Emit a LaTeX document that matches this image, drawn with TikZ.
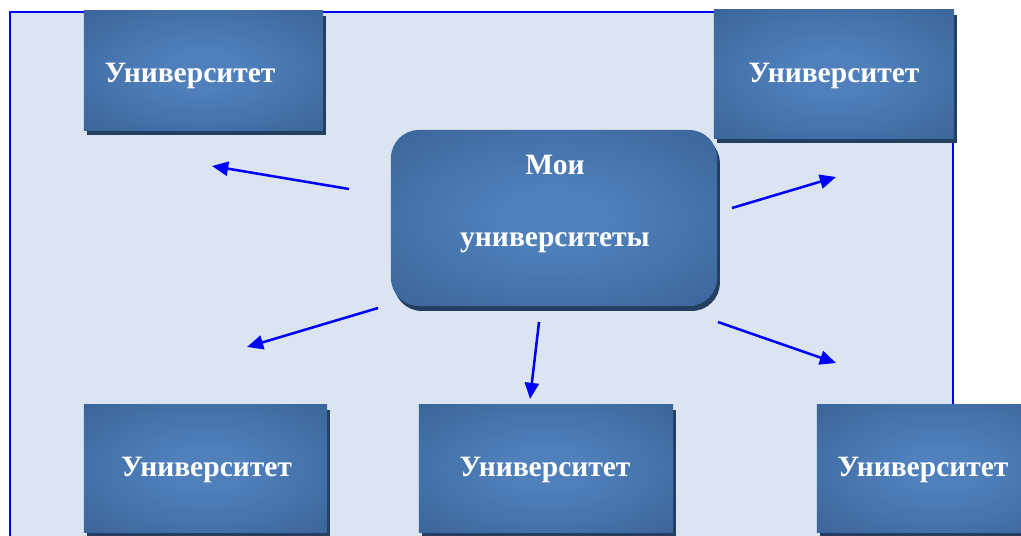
\documentclass[tikz,border=0pt]{standalone}
\usepackage{fontspec}
\setmainfont{Liberation Serif}
\usetikzlibrary{arrows.meta,shadows}
\definecolor{bgBlue}{HTML}{DBE4F1}
\definecolor{uniLight}{HTML}{4F80BC}
\definecolor{uniDark}{HTML}{365F91}
\definecolor{uniShadow}{HTML}{243F60}
\pgfdeclareradialshading{unishade}{\pgfpoint{0bp}{0bp}}{color(0bp)=(uniLight); color(8bp)=(uniLight); color(42bp)=(uniDark); color(50bp)=(uniDark)}
\tikzset{
  unibox/.style={rectangle, shade, shading=unishade, inner sep=0pt,
    drop shadow={shadow xshift=2pt, shadow yshift=-3.5pt, fill=uniShadow, opacity=1}},
  unitext/.style={anchor=base, text=white, inner sep=0pt,
    font=\fontsize{21}{25}\selectfont\bfseries},
  uniarrow/.style={draw=blue, line width=1.8pt, -{Triangle[length=11.5pt,width=10pt]}}
}
\begin{document}
\begin{tikzpicture}[x=0.025cm, y=-0.025cm]
                \clip (0,0) rectangle (1021,535);
                \draw[draw=blue, fill=bgBlue, line width=1pt] (10,12) rectangle (953,560);

                \node[unibox, minimum width=5.975cm, minimum height=2.975cm] (tl) at (203.5,70.5) {};
                \node[unibox, minimum width=6cm, minimum height=3.2cm] (tr) at (834,74) {};
                \node[unibox, rounded corners=0.7cm, minimum width=8.15cm, minimum height=4.4cm] (mine) at (554,218) {};
                \node[unibox, minimum width=6.075cm, minimum height=3.175cm] (bl) at (205.5,468.5) {};
                \node[unibox, minimum width=6.35cm, minimum height=3.175cm] (bm) at (546,468.5) {};
                \node[unibox, minimum width=6.125cm, minimum height=3.175cm] (br) at (939.5,468.5) {};

                \node[unitext] (tlText) at (190,82) {Университет};
                \node[unitext] (trText) at (834,82) {Университет};
                \node[unitext] (mineA) at (555,174) {Мои};
                \node[unitext] (mineB) at (555,246) {университеты};
                \node[unitext] (blText) at (206.5,476) {Университет};
                \node[unitext] (bmText) at (545,476) {Университет};
                \node[unitext] (brText) at (923,476) {Университет};

                \coordinate (a1) at (349,189); \coordinate (b1) at (212,166);
                \coordinate (a2) at (732,208); \coordinate (b2) at (836,177);
                \coordinate (a3) at (378,308); \coordinate (b3) at (247,347);
                \coordinate (a4) at (539,322); \coordinate (b4) at (530,399);
                \coordinate (a5) at (718,322); \coordinate (b5) at (836,363);
                \foreach \i in {1,...,5}
                    \draw[uniarrow] (a\i) -- (b\i);
\end{tikzpicture}
\end{document}
